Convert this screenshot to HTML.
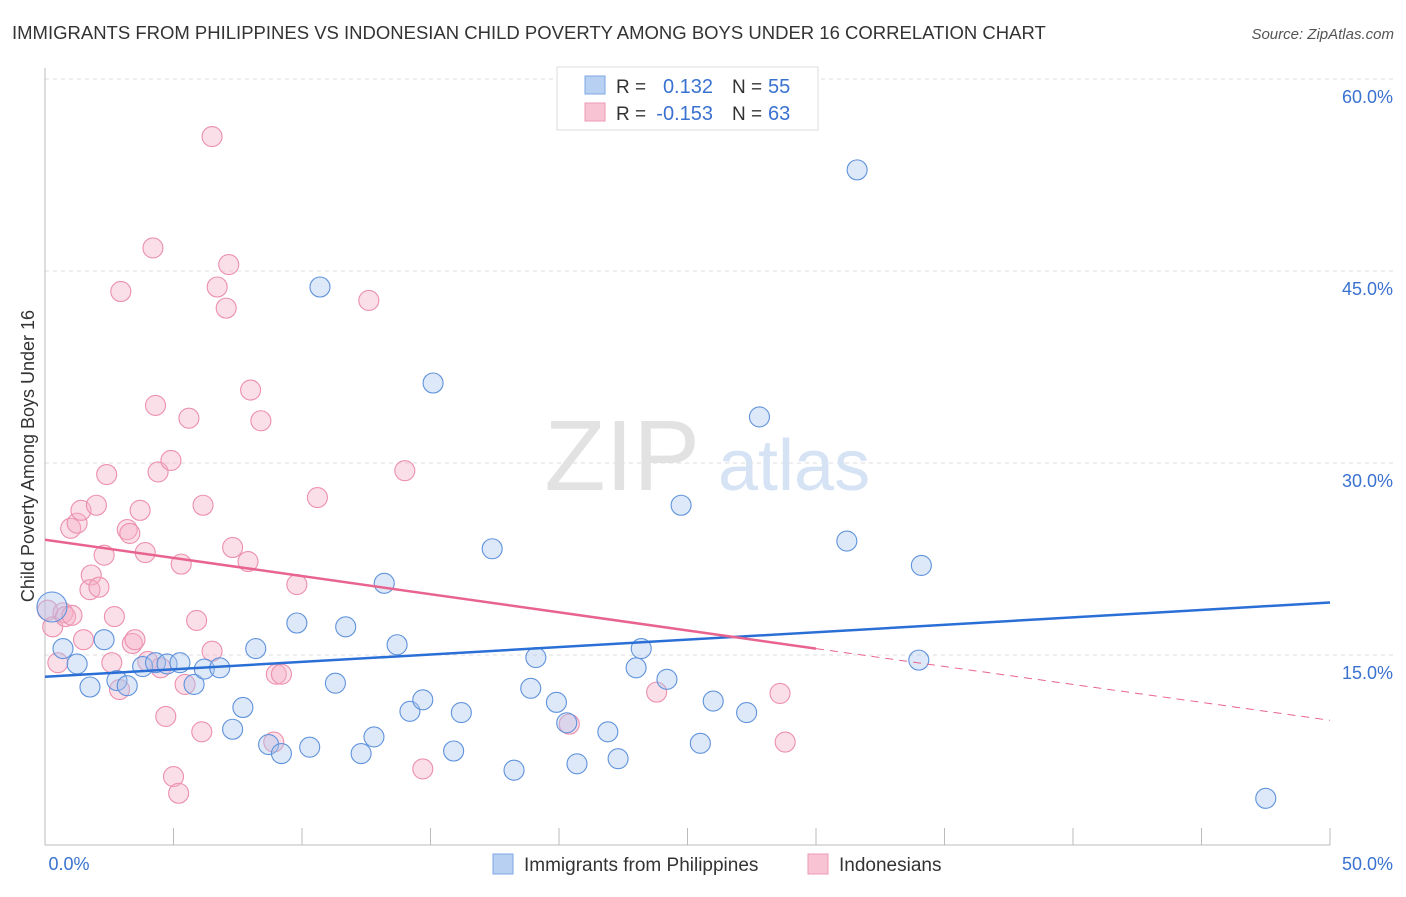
<!DOCTYPE html>
<html><head><meta charset="utf-8"><style>
body{margin:0;background:#fff;font-family:"Liberation Sans",sans-serif}
svg text{font-family:"Liberation Sans",sans-serif}
</style></head><body>
<svg id="chart" width="1406" height="892" viewBox="0 0 1406 892">
<text x="12" y="39" font-size="18.5" fill="#333">IMMIGRANTS FROM PHILIPPINES VS INDONESIAN CHILD POVERTY AMONG BOYS UNDER 16 CORRELATION CHART</text>
<text x="1394" y="39" font-size="15" fill="#555" font-style="italic" text-anchor="end">Source: ZipAtlas.com</text>
<g id="grid"></g>
<text x="700" y="490" font-size="100" fill="#e2e2e2" font-family="Liberation Serif" text-anchor="end">ZIP</text>
<text x="718" y="490" font-size="72" fill="#d6e3f5">atlas</text>
<line x1="45" y1="68" x2="45" y2="845" stroke="#bbb"/>
<line x1="45" y1="845" x2="1330" y2="845" stroke="#bbb"/>
<g id="xticks"></g>
<g id="pts"></g>
<g id="trend"></g>
<text x="69" y="870" font-size="18" fill="#3a72d0" text-anchor="middle">0.0%</text>
<text x="1393" y="870" font-size="18" fill="#3a72d0" text-anchor="end">50.0%</text>
<text transform="translate(34,456) rotate(-90)" font-size="18" fill="#333" text-anchor="middle">Child Poverty Among Boys Under 16</text>
<g>
<rect x="557" y="67" width="261" height="63" fill="#fff" stroke="#ddd"/>
<rect x="585" y="76" width="20" height="18" fill="#b8d1f3" stroke="#7ea7e3"/>
<rect x="585" y="103" width="20" height="18" fill="#f8c4d4" stroke="#ee9ab3"/>
<text x="616" y="93" font-size="19" fill="#333">R =</text><text x="713" y="93" font-size="20" fill="#3a72d0" text-anchor="end">0.132</text>
<text x="732" y="93" font-size="19" fill="#333">N =</text><text x="768" y="93" font-size="20" fill="#3a72d0">55</text>
<text x="616" y="120" font-size="19" fill="#333">R =</text><text x="713" y="120" font-size="20" fill="#3a72d0" text-anchor="end">-0.153</text>
<text x="732" y="120" font-size="19" fill="#333">N =</text><text x="768" y="120" font-size="20" fill="#3a72d0">63</text>
</g>
<g>
<rect x="493" y="854" width="20" height="20" fill="#b8d1f3" stroke="#7ea7e3"/>
<text x="524" y="871" font-size="19" fill="#333">Immigrants from Philippines</text>
<rect x="808" y="854" width="20" height="20" fill="#f8c4d4" stroke="#ee9ab3"/>
<text x="839" y="871" font-size="19" fill="#333">Indonesians</text>
</g>
</svg>
<script>
const yTicks=[15,30,45,60];
const yTickLabels=["15.0%","30.0%","45.0%","60.0%"];
const xTicks=[5,10,15,20,25,30,35,40,45,50];
const blueX=[0.27,0.7,1.25,1.75,2.3,2.8,3.2,3.8,4.3,4.75,5.25,5.8,6.2,6.8,7.3,7.7,8.2,8.7,9.2,9.8,10.3,10.7,11.3,11.7,12.3,12.8,13.2,13.7,14.2,14.7,15.1,15.9,16.2,17.4,18.25,18.9,19.1,19.9,20.3,20.7,21.9,22.3,23.0,23.2,24.2,24.75,25.5,26.0,27.3,27.8,31.2,31.6,34.0,34.1,47.5];
const blueY=[18.75,15.5,14.3,12.5,16.2,13.0,12.6,14.1,14.4,14.3,14.4,12.7,13.9,14.0,9.2,10.9,15.5,8.0,7.3,17.5,7.8,43.75,12.8,17.2,7.3,8.6,20.6,15.8,10.6,11.5,36.25,7.5,10.5,23.3,6.0,12.4,14.8,11.3,9.7,6.5,9.0,6.9,14.0,15.5,13.1,26.7,8.1,11.4,10.5,33.6,23.9,52.9,14.6,22.0,3.8];
const pinkX=[0.1,0.3,0.5,0.7,0.8,1.05,1.0,1.25,1.4,1.5,1.8,1.75,2.0,2.1,2.3,2.4,2.6,2.7,2.9,2.95,3.2,3.3,3.4,3.5,3.7,3.9,4.0,4.2,4.3,4.4,4.5,4.7,4.9,5.0,5.2,5.3,5.45,5.6,5.9,6.1,6.15,6.5,6.5,6.7,7.05,7.15,7.3,7.9,8.0,8.4,8.9,9.0,9.2,9.8,10.6,12.6,14.0,14.7,20.4,23.8,28.6,28.8];
const pinkY=[18.5,17.2,14.4,18.3,18.0,18.1,24.9,25.3,26.3,16.2,21.25,20.1,26.7,20.3,22.8,29.1,14.4,18.0,12.3,43.4,24.8,24.5,15.9,16.2,26.3,23.0,14.5,46.8,34.5,29.3,14.0,10.2,30.2,5.5,4.2,22.1,12.7,33.5,17.7,9.0,26.7,55.5,15.3,43.75,42.1,45.5,23.4,22.3,35.7,33.3,8.2,13.5,13.5,20.5,27.3,42.7,29.4,6.1,9.6,12.1,12.0,8.2];
const blueTrend=[13.3,19.1];
const pinkTrend=[24.0,15.5,9.9];
const pinkSolidEnd=30;
const NS="http://www.w3.org/2000/svg";
const X=v=>45+v*25.7, Y=v=>847-v*12.8;
function mk(t,a,p){const e=document.createElementNS(NS,t);for(const k in a)e.setAttribute(k,a[k]);p.appendChild(e);return e;}
const grid=document.getElementById('grid');
yTicks.forEach((t,i)=>{
 const l=mk('line',{x1:45,x2:1393,y1:Y(t),y2:Y(t),stroke:'#ddd','stroke-dasharray':'4,4'},grid);
 
 
 const tx=mk('text',{x:1393,y:Y(t)+24,'font-size':18,fill:'#3a72d0','text-anchor':'end'},grid);
 tx.textContent=yTickLabels[i];
 
 
});
const xt=document.getElementById('xticks');
xTicks.forEach(t=>{
 const l=mk('line',{x1:X(t),x2:X(t),y1:828,y2:845,stroke:'#bbb'},xt);
 
 
});
const pts=document.getElementById('pts');
function dots(xs,ys,fill,stroke,name,bigFirst){
 xs.forEach((x,i)=>{
  const r=(bigFirst&&i===0)?15:10;
  const c=mk('circle',{cx:X(x),cy:Y(ys[i]),r:r,fill:fill,'fill-opacity':0.4,stroke:stroke,'stroke-width':1.1},pts);
  
  
 });
}
dots(pinkX,pinkY,'#f5b0c6','#ec8fac','indonesian-point',false);
dots(blueX,blueY,'#a9c6ee','#5f92dc','philippines-point',true);
const tr=document.getElementById('trend');
const bl=mk('line',{x1:X(0),y1:Y(blueTrend[0]),x2:X(50),y2:Y(blueTrend[1]),stroke:'#2a6fd6','stroke-width':2.5},tr);


const pl=mk('line',{x1:X(0),y1:Y(pinkTrend[0]),x2:X(pinkSolidEnd),y2:Y(pinkTrend[1]),stroke:'#e8648f','stroke-width':2.5},tr);


const pd=mk('line',{x1:X(pinkSolidEnd),y1:Y(pinkTrend[1]),x2:X(50),y2:Y(pinkTrend[2]),stroke:'#e8648f','stroke-width':1,'stroke-dasharray':'8,6'},tr);


</script>
</body></html>
